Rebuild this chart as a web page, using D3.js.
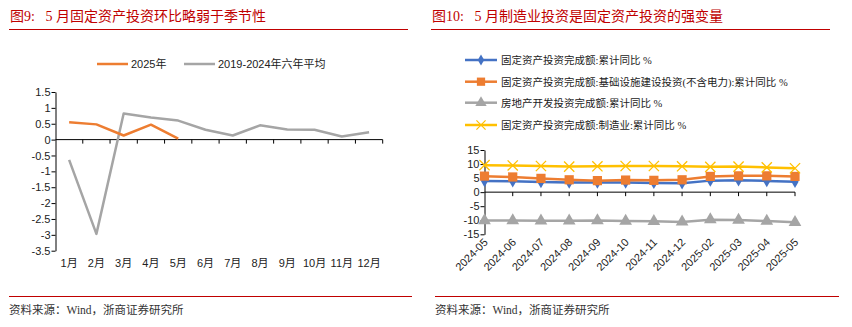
<!DOCTYPE html>
<html><head><meta charset="utf-8">
<script src="https://cdn.jsdelivr.net/npm/d3@7"></script>
<style>
body{margin:0;background:#fff;}
svg{display:block;}
text{font-family:"Liberation Sans",Arial,"Noto Sans CJK SC",sans-serif;}
.serif{font-family:"Liberation Serif","Noto Sans CJK SC",serif;}
</style></head>
<body>
<svg id="c" width="852" height="327"></svg>
<script>
// ---------- Data: left chart ----------
const months = ["1月","2月","3月","4月","5月","6月","7月","8月","9月","10月","11月","12月"];
const y2025 = [0.55, 0.48, 0.13, 0.47, 0.03];
const avg6y = [-0.64, -2.97, 0.82, 0.70, 0.60, 0.31, 0.13, 0.45, 0.32, 0.31, 0.10, 0.23];
const leftTicks = [1.5, 1, 0.5, 0, -0.5, -1, -1.5, -2, -2.5, -3, -3.5];
const leftNames = ["2025年", "2019-2024年六年平均"];

// ---------- Data: right chart ----------
const periods = ["2024-05","2024-06","2024-07","2024-08","2024-09","2024-10","2024-11","2024-12","2025-02","2025-03","2025-04","2025-05"];
const faiTotal = [4.0, 3.9, 3.6, 3.4, 3.4, 3.4, 3.3, 3.2, 4.1, 4.2, 4.0, 3.7];
const faiInfra = [5.7, 5.4, 4.9, 4.4, 4.1, 4.3, 4.2, 4.4, 5.6, 5.8, 5.8, 5.6];
const realEstate = [-10.1, -10.1, -10.2, -10.2, -10.1, -10.3, -10.4, -10.6, -9.8, -9.9, -10.3, -10.7];
const faiMfg = [9.6, 9.5, 9.3, 9.1, 9.2, 9.3, 9.3, 9.2, 9.0, 9.1, 8.8, 8.5];
const rightTicks = [15, 10, 5, 0, -5, -10, -15];
const rightNames = [
  "固定资产投资完成额:累计同比 %",
  "固定资产投资完成额:基础设施建设投资(不含电力):累计同比 %",
  "房地产开发投资完成额:累计同比 %",
  "固定资产投资完成额:制造业:累计同比 %"
];

const svg = d3.select("#c");
const RED = "#C00000";

// ---------- Titles & frames ----------
function header(x, x2, title){
  svg.append("text").attr("class","serif").attr("x",x).attr("y",21)
    .attr("fill",RED).attr("font-size",14).attr("xml:space","preserve")
    .style("white-space","pre").text(title);
  svg.append("line").attr("x1",x-1).attr("x2",x2).attr("y1",29.5).attr("y2",29.5)
    .attr("stroke",RED).attr("stroke-width",1.2);
}
header(10, 408, "图9:\u00a0\u00a0\u00a05\u00a0月固定资产投资环比略弱于季节性");
header(432, 830, "图10:\u00a0\u00a0\u00a05\u00a0月制造业投资是固定资产投资的强变量");

function footer(x, x2){
  svg.append("line").attr("x1",x).attr("x2",x2).attr("y1",296.5).attr("y2",296.5)
    .attr("stroke",RED).attr("stroke-width",1.2);
  svg.append("text").attr("class","serif").attr("x",x).attr("y",314)
    .attr("fill","#333").attr("font-size",11.5).text("资料来源：Wind，浙商证券研究所");
}
footer(9, 412);
footer(435, 839);

// ---------- Left chart ----------
const xL = d3.scaleBand().domain(months).range([55.5, 382.7]);
const yL = d3.scaleLinear().domain([-3.5, 1.5]).range([250.7, 92]);
const fmt = v => String(v);

const gL = svg.append("g");
const yAxL = d3.axisLeft(yL).tickValues(leftTicks).tickFormat(fmt).tickSize(4).tickSizeOuter(0);
const gy = gL.append("g").attr("transform","translate(55.5,0)").call(yAxL);
gy.select(".domain").attr("stroke","#000");
gy.selectAll(".tick line").attr("stroke","#000");
gy.selectAll("text").attr("font-size",11).attr("fill","#222").attr("x",-5);

const xTickPos = months.map(m=>xL(m)).concat([xL.range()[1]]);
gL.append("line").attr("x1",55.5).attr("x2",382.7).attr("y1",yL(0)).attr("y2",yL(0)).attr("stroke","#000");
gL.selectAll(".xt").data(xTickPos.slice(1)).enter().append("line")
  .attr("x1",d=>d).attr("x2",d=>d).attr("y1",yL(0)).attr("y2",yL(0)+4).attr("stroke","#000");
gL.selectAll(".xl").data(months).enter().append("text")
  .attr("x",d=>xL(d)+xL.bandwidth()/2).attr("y",267).attr("text-anchor","middle")
  .attr("font-size",11).attr("fill","#222").text(d=>d);

const lineL = d3.line().x((d,i)=>xL(months[i])+xL.bandwidth()/2).y(d=>yL(d));
gL.append("path").datum(avg6y).attr("d",lineL).attr("fill","none").attr("stroke","#A5A5A5").attr("stroke-width",2.5).attr("stroke-linejoin","round");
gL.append("path").datum(y2025).attr("d",lineL).attr("fill","none").attr("stroke","#ED7D31").attr("stroke-width",2.5).attr("stroke-linejoin","round");

const legL = [{n:leftNames[0],c:"#ED7D31",x:97},{n:leftNames[1],c:"#A5A5A5",x:184}];
legL.forEach(d=>{
  svg.append("line").attr("x1",d.x).attr("x2",d.x+31).attr("y1",64).attr("y2",64).attr("stroke",d.c).attr("stroke-width",2.5);
  svg.append("text").attr("x",d.x+34).attr("y",68).attr("font-size",11).attr("fill","#222").text(d.n);
});

// ---------- Right chart ----------
const xR = d3.scalePoint().domain(periods).range([484.5, 795]);
const yR = d3.scaleLinear().domain([-15, 15]).range([234.3, 150]);
const gR = svg.append("g");
const yAxR = d3.axisLeft(yR).tickValues(rightTicks).tickFormat(fmt).tickSize(4).tickSizeOuter(0);
const gyr = gR.append("g").attr("transform","translate(484.5,0)").call(yAxR);
gyr.select(".domain").attr("stroke","#000");
gyr.selectAll(".tick line").attr("stroke","#000");
gyr.selectAll("text").attr("font-size",11).attr("fill","#222").attr("x",-5);

gR.append("line").attr("x1",484.5).attr("x2",795).attr("y1",yR(0)).attr("y2",yR(0)).attr("stroke","#000");
gR.selectAll(".xt").data(periods.slice(1)).enter().append("line")
  .attr("x1",d=>xR(d)).attr("x2",d=>xR(d)).attr("y1",yR(0)).attr("y2",yR(0)+4).attr("stroke","#000");
gR.selectAll(".xl").data(periods).enter().append("text")
  .attr("transform",d=>`translate(${xR(d)+4},${243}) rotate(-45)`)
  .attr("text-anchor","end").attr("font-size",11).attr("fill","#222").text(d=>d);

const series = [
  {v:faiTotal, c:"#4472C4", s:d3.symbolDiamond, size:45},
  {v:faiInfra, c:"#ED7D31", s:d3.symbolSquare, size:85},
  {v:realEstate, c:"#A5A5A5", s:d3.symbolTriangle, size:70},
  {v:faiMfg, c:"#FFC000", s:d3.symbolX, size:70}
];
const lineR = d3.line().x((d,i)=>xR(periods[i])).y(d=>yR(d));
[2,0,1,3].forEach(k=>{
  const s = series[k];
  gR.append("path").datum(s.v).attr("d",lineR).attr("fill","none").attr("stroke",s.c).attr("stroke-width",2.5);
  gR.selectAll(null).data(s.v).enter().append("path")
    .attr("transform",(d,i)=>`translate(${xR(periods[i])},${yR(d)})`)
    .attr("d",d3.symbol().type(s.s).size(s.size))
    .attr("fill",k===3?"none":s.c).attr("stroke",s.c).attr("stroke-width",k===3?1.3:0);
});

const legY = [60, 81.7, 102.7, 125];
series.forEach((s,k)=>{
  svg.append("line").attr("x1",465).attr("x2",497).attr("y1",legY[k]).attr("y2",legY[k]).attr("stroke",s.c).attr("stroke-width",2.5);
  svg.append("path").attr("transform",`translate(481,${legY[k]})`)
    .attr("d",d3.symbol().type(s.s).size(s.size*0.8))
    .attr("fill",k===3?"none":s.c).attr("stroke",s.c).attr("stroke-width",k===3?1.2:0);
  svg.append("text").attr("class","serif").attr("x",501).attr("y",legY[k]+4).attr("font-size",10.5).attr("fill","#222").text(rightNames[k]);
});
</script>
</body></html>
